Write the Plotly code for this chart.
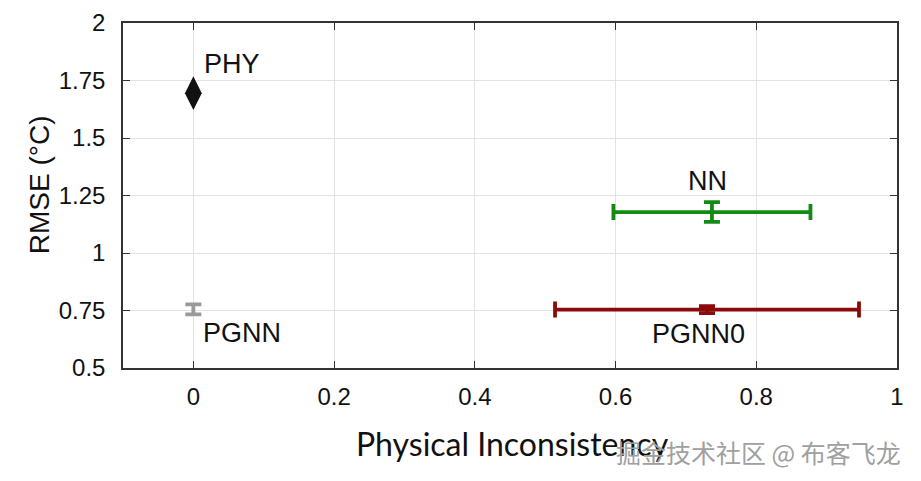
import plotly.graph_objects as go

# Data
models = ["PHY", "PGNN", "NN", "PGNN0"]
phys_incons = [0.0, 0.0, 0.737, 0.730]
phys_incons_err = [0.0, 0.0, 0.140, 0.216]
rmse = [1.695, 0.755, 1.178, 0.754]
rmse_err = [0.0, 0.022, 0.043, 0.015]
colors = ["#111111", "#9a9a9a", "#138a13", "#8b0a0a"]

x_ticks = [0, 0.2, 0.4, 0.6, 0.8, 1]
x_ticktext = ["0", "0.2", "0.4", "0.6", "0.8", "1"]
y_ticks = [0.5, 0.75, 1, 1.25, 1.5, 1.75, 2]
y_ticktext = ["0.5", "0.75", "1", "1.25", "1.5", "1.75", "2"]

# label offsets in pixels (xshift, yshift, xanchor)
label_pos = {
    "PHY": (9, 29, "left"),
    "PGNN": (8, -24, "left"),
    "NN": (-4, 31, "center"),
    "PGNN0": (-9, -24, "center"),
}

fig = go.Figure()

for i, m in enumerate(models):
    if m == "PHY":
        fig.add_trace(go.Scatter(
            x=[phys_incons[i]], y=[rmse[i]], mode="markers",
            marker=dict(symbol="diamond-tall", size=24, color=colors[i]),
            showlegend=False, hoverinfo="skip"))
    else:
        fig.add_trace(go.Scatter(
            x=[phys_incons[i]], y=[rmse[i]], mode="markers",
            marker=dict(symbol="square", size=3, color=colors[i]),
            error_x=dict(type="data", array=[phys_incons_err[i]], visible=phys_incons_err[i] > 0,
                         color=colors[i], thickness=3.8, width=8),
            error_y=dict(type="data", array=[rmse_err[i]], visible=True,
                         color=colors[i], thickness=3.8, width=8),
            showlegend=False, hoverinfo="skip"))
    xs, ys, xa = label_pos[m]
    fig.add_annotation(x=phys_incons[i], y=rmse[i], text=m, showarrow=False,
                       xshift=xs, yshift=ys, xanchor=xa, yanchor="middle",
                       font=dict(family="Liberation Sans, Arial", size=27, color="#111111"))

fig.add_annotation(xref="paper", yref="paper", x=-0.1085, y=0.53, text="RMSE (°C)",
                   showarrow=False, textangle=-90, xanchor="center", yanchor="middle",
                   font=dict(family="Liberation Sans, Arial", size=28, color="#111111"))
fig.add_annotation(xref="paper", yref="paper", x=0.503, y=-0.218, text="Physical Inconsistency",
                   showarrow=False, xanchor="center", yanchor="middle",
                   font=dict(family="Lato, Open Sans", size=32, color="#111111"))
fig.add_annotation(xref="paper", yref="paper", x=1.008, y=-0.244, text="掘金技术社区 @ 布客飞龙",
                   showarrow=False, xanchor="right", yanchor="middle",
                   font=dict(family="Noto Sans CJK SC", size=25, color="#a0a0a0"))

axis_common = dict(
    showgrid=True, gridcolor="#e3e3e3", gridwidth=1,
    showline=True, linecolor="#333333", linewidth=1.5, mirror="allticks",
    ticks="inside", ticklen=7, tickcolor="#333333", zeroline=False, automargin=False,
    tickfont=dict(family="Liberation Sans, Arial", size=24, color="#111111"),
)

fig.update_xaxes(range=[-0.1, 1.0], tickvals=x_ticks, ticktext=x_ticktext,
                 ticklabelstandoff=6, **axis_common)
fig.update_yaxes(range=[0.5, 2.0], tickvals=y_ticks, ticktext=y_ticktext,
                 ticklabelstandoff=11, **axis_common)

fig.update_layout(width=913, height=473, plot_bgcolor="white", paper_bgcolor="white",
                  margin=dict(l=115, r=24, t=15, b=113))

fig.write_html("out.html")
